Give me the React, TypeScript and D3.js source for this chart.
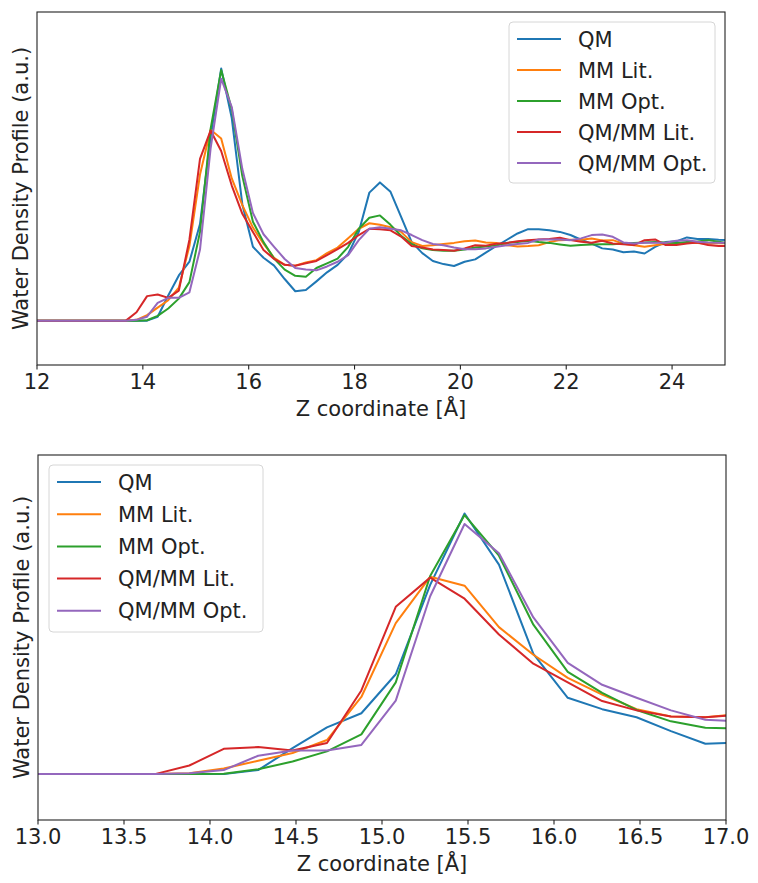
import React from 'react';
import * as d3 from 'd3';

// z grid of the density profile [Å]
const zValues = [
  11.88, 12.08, 12.28, 12.48, 12.68, 12.88, 13.08, 13.28, 13.48,
  13.68, 13.88, 14.08, 14.28, 14.48, 14.68, 14.88, 15.08, 15.28, 15.48,
  15.68, 15.88, 16.08, 16.28, 16.48, 16.68, 16.88, 17.08, 17.28, 17.48,
  17.68, 17.88, 18.08, 18.28, 18.48, 18.68, 18.88, 19.08, 19.28, 19.48,
  19.68, 19.88, 20.08, 20.28, 20.48, 20.68, 20.88, 21.08, 21.28, 21.48,
  21.68, 21.88, 22.08, 22.28, 22.48, 22.68, 22.88, 23.08, 23.28, 23.48,
  23.68, 23.88, 24.08, 24.28, 24.48, 24.68, 24.88, 25.08,
];

const qm = [
  0, 0, 0, 0, 0, 0, 0, 0, 0,
  0, 0, 0, 0.05, 0.32, 0.575, 0.75, 1.23, 2.33, 3.21,
  2.58, 1.48, 0.94, 0.8, 0.7, 0.53, 0.374, 0.39, 0.5, 0.615,
  0.71, 0.85, 1.13, 1.63, 1.76, 1.64, 1.32, 1.0, 0.86, 0.76,
  0.72, 0.695, 0.75, 0.78, 0.865, 0.95, 1.03, 1.11, 1.165, 1.165,
  1.15, 1.13, 1.09, 1.03, 0.98, 0.92, 0.905, 0.87, 0.88, 0.855,
  0.94, 1.0, 1.01, 1.06, 1.04, 1.04, 1.03, 1.025,
];

const mmLit = [
  0, 0, 0, 0, 0, 0, 0, 0, 0,
  0, 0.01, 0.07, 0.165, 0.26, 0.42, 0.95, 1.86, 2.43, 2.32,
  1.81, 1.47, 1.185, 0.98, 0.8, 0.71, 0.7, 0.74, 0.77, 0.86,
  0.93, 1.05, 1.17, 1.24, 1.22, 1.19, 1.13, 1.0, 0.95, 0.96,
  0.975, 0.99, 1.01, 1.02, 0.995, 0.99, 0.96, 0.945, 0.95, 0.96,
  1.0, 1.025, 1.03, 1.03, 1.045, 1.02, 1.025, 0.98, 0.96, 0.94,
  0.96, 0.98, 0.99, 0.99, 0.99, 0.98, 0.99, 0.98,
];

const mmOpt = [
  0, 0, 0, 0, 0, 0, 0, 0, 0,
  0, 0, 0.005, 0.06, 0.155, 0.28, 0.49, 1.13, 2.44, 3.19,
  2.69, 1.84, 1.26, 1.0, 0.79, 0.65, 0.57, 0.56, 0.67, 0.73,
  0.79, 0.94, 1.17, 1.31, 1.34, 1.22, 1.08, 0.975, 0.92, 0.9,
  0.89, 0.89, 0.905, 0.93, 0.945, 0.96, 0.99, 1.0, 1.017, 1.0,
  0.99, 0.97, 0.953, 0.962, 0.97, 0.974, 0.974, 0.983, 0.99, 0.995,
  1.0, 0.995, 0.99, 1.0, 1.008, 1.025, 1.004, 0.983,
];

const qmmmLit = [
  0, 0, 0, 0, 0, 0, 0, 0, 0,
  0, 0.106, 0.312, 0.333, 0.29, 0.383, 1.03, 2.06, 2.42, 2.16,
  1.72, 1.36, 1.13, 0.9, 0.785, 0.71, 0.7, 0.73, 0.76, 0.835,
  0.91, 0.99, 1.09, 1.17, 1.165, 1.15, 1.07, 0.95, 0.93, 0.905,
  0.9, 0.89, 0.92, 0.96, 0.955, 0.98, 0.99, 1.01, 1.025, 1.034,
  1.038, 1.055, 1.025, 1.004, 0.991, 1.017, 0.983, 0.974, 0.962, 1.025,
  1.034, 0.962, 0.962, 0.983, 0.995, 0.962, 0.949, 0.949,
];

const qmmmOpt = [
  0, 0, 0, 0, 0, 0, 0, 0, 0,
  0, 0.01, 0.05, 0.226, 0.29, 0.29, 0.36, 0.905, 2.19, 3.08,
  2.72, 1.93, 1.37, 1.1, 0.94, 0.785, 0.67, 0.65, 0.64, 0.69,
  0.75, 0.835, 1.025, 1.17, 1.19, 1.17, 1.15, 1.09, 1.025, 0.975,
  0.96, 0.93, 0.91, 0.91, 0.92, 0.94, 0.96, 0.975, 0.99, 1.034,
  1.034, 1.034, 1.025, 1.047, 1.089, 1.098, 1.068, 0.995, 0.983, 0.991,
  0.991, 0.991, 1.017, 1.025, 1.004, 0.995, 0.991, 0.991,
];

const seriesNames = ['QM', 'MM Lit.', 'MM Opt.', 'QM/MM Lit.', 'QM/MM Opt.'];
const seriesValues = [qm, mmLit, mmOpt, qmmmLit, qmmmOpt];
const seriesColors = ['#1f77b4', '#ff7f0e', '#2ca02c', '#d62728', '#9467bd'];

const topTicks = [12, 14, 16, 18, 20, 22, 24];
const bottomTicks = [13.0, 13.5, 14.0, 14.5, 15.0, 15.5, 16.0, 16.5, 17.0];
const yDomain: [number, number] = [-0.565, 3.93];

const FONT = 'DejaVu Sans, sans-serif';
const FS = 21;

interface PanelProps {
  id: string;
  left: number;
  top: number;
  width: number;
  height: number;
  xDomain: [number, number];
  ticks: number[];
  tickFormat: (v: number) => string;
  legend: { x: number; y: number; w: number; h: number; rowH: number };
}

const Panel: React.FC<PanelProps> = ({ id, left, top, width, height, xDomain, ticks, tickFormat, legend }) => {
  const x = d3.scaleLinear().domain(xDomain).range([0, width]);
  const y = d3.scaleLinear().domain(yDomain).range([height, 0]);
  const line = d3.line<[number, number]>().x(d => x(d[0])).y(d => y(d[1]));

  return (
    <g transform={`translate(${left},${top})`}>
      <defs>
        <clipPath id={id}>
          <rect x={0} y={0} width={width} height={height} />
        </clipPath>
      </defs>
      <g clipPath={`url(#${id})`}>
        {seriesValues.map((vals, i) => (
          <path
            key={seriesNames[i]}
            d={line(zValues.map((z, j) => [z, vals[j]] as [number, number])) || ''}
            fill="none"
            stroke={seriesColors[i]}
            strokeWidth={2}
            strokeLinejoin="round"
          />
        ))}
      </g>
      <rect x={0} y={0} width={width} height={height} fill="none" stroke="#222" strokeWidth={1.1} />
      {ticks.map(t => (
        <g key={t} transform={`translate(${x(t)},${height})`}>
          <line y1={0} y2={4.5} stroke="#222" strokeWidth={1.1} />
          <text y={24} textAnchor="middle" fontFamily={FONT} fontSize={FS} fill="#222">
            {tickFormat(t)}
          </text>
        </g>
      ))}
      <text x={width / 2} y={height + 51} textAnchor="middle" fontFamily={FONT} fontSize={FS} fill="#222">
        Z coordinate [Å]
      </text>
      <text
        transform={`translate(${-9},${height / 2}) rotate(-90)`}
        textAnchor="middle"
        fontFamily={FONT}
        fontSize={FS}
        fill="#222"
      >
        Water Density Profile (a.u.)
      </text>
      <g transform={`translate(${legend.x},${legend.y})`}>
        <rect width={legend.w} height={legend.h} rx={4} fill="white" fillOpacity={0.8} stroke="#d6d6d6" />
        {seriesNames.map((name, i) => (
          <g key={name} transform={`translate(0,${17 + i * legend.rowH})`}>
            <line x1={8} x2={52} stroke={seriesColors[i]} strokeWidth={2} />
            <text x={69} y={7.5} fontFamily={FONT} fontSize={FS} fill="#222">
              {name}
            </text>
          </g>
        ))}
      </g>
    </g>
  );
};

export default function App() {
  return (
    <svg width={758} height={883} style={{ position: 'absolute', left: 0, top: 0, background: 'white' }}>
      <Panel
        id="clip-top"
        left={37}
        top={12}
        width={688}
        height={353}
        xDomain={[12, 25]}
        ticks={topTicks}
        tickFormat={v => String(v)}
        legend={{ x: 472, y: 10, w: 206, h: 161, rowH: 31 }}
      />
      <Panel
        id="clip-bottom"
        left={38}
        top={455}
        width={688}
        height={365}
        xDomain={[13, 17]}
        ticks={bottomTicks}
        tickFormat={v => v.toFixed(1)}
        legend={{ x: 11, y: 10, w: 214, h: 167, rowH: 32.2 }}
      />
    </svg>
  );
}
